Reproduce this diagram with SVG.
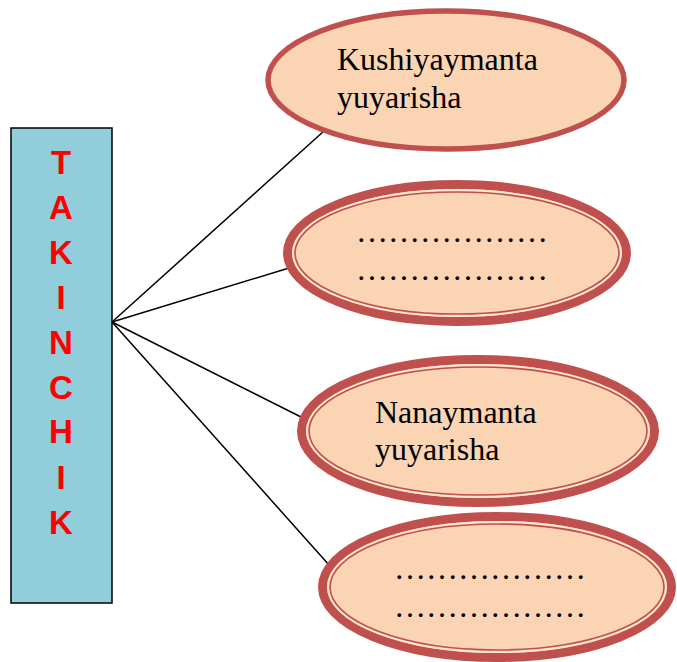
<svg xmlns="http://www.w3.org/2000/svg" width="677" height="662" viewBox="0 0 677 662">
<style>
.bg{fill:#ffffff}
.box{fill:#92CDDC;stroke:#000000;stroke-width:1.5}
.vt{font-family:"Liberation Sans",Arial,sans-serif;font-weight:bold;font-size:33px;fill:#FF0000;text-anchor:middle}
.e1{fill:#FBD4B4;stroke:#C0504D;stroke-width:5.5}
.eo{fill:#FBD4B4;stroke:#C0504D;stroke-width:9}
.eg{fill:none;stroke:#FDE6CF;stroke-width:2}
.ei{fill:none;stroke:#C0504D;stroke-width:1.6}
.lb{font-family:"Liberation Serif","Times New Roman",serif;font-size:32px;fill:#000000}
.dt{font-family:"Liberation Serif","Times New Roman",serif;font-size:32px;fill:#000000}
.cn line{stroke:#000000;stroke-width:1.5}
</style>
<rect class="bg" x="0" y="0" width="677" height="662"/>
<g id="connectors" class="cn">
<line x1="112" y1="322" x2="324" y2="131"/>
<line x1="112" y1="322" x2="289" y2="268"/>
<line x1="112" y1="322" x2="303" y2="418"/>
<line x1="112" y1="322" x2="338" y2="575"/>
</g>
<g id="takinchik">
<rect class="box" x="11" y="128" width="101" height="475"/>
<text class="vt" x="61" y="174">T</text>
<text class="vt" x="61" y="219">A</text>
<text class="vt" x="61" y="264">K</text>
<text class="vt" x="61" y="309">I</text>
<text class="vt" x="61" y="354">N</text>
<text class="vt" x="61" y="399">C</text>
<text class="vt" x="61" y="443">H</text>
<text class="vt" x="61" y="489">I</text>
<text class="vt" x="61" y="534">K</text>
</g>
<g id="node1">
<ellipse class="e1" cx="446" cy="80" rx="178" ry="69"/>
<text class="lb" x="337" y="70">Kushiyaymanta</text>
<text class="lb" x="337" y="108">yuyarisha</text>
</g>
<g id="node2">
<ellipse class="eo" cx="457" cy="253" rx="169.5" ry="68.5"/>
<ellipse class="eg" cx="457" cy="253" rx="164" ry="63"/>
<ellipse class="ei" cx="457" cy="253" rx="162" ry="61"/>
<text class="dt" x="356" y="242">………………</text>
<text class="dt" x="356" y="280">………………</text>
</g>
<g id="node3">
<ellipse class="eo" cx="478" cy="431" rx="176.5" ry="71.5"/>
<ellipse class="eg" cx="478" cy="431" rx="171" ry="66"/>
<ellipse class="ei" cx="478" cy="431" rx="169" ry="64"/>
<text class="lb" x="375" y="423">Nanaymanta</text>
<text class="lb" x="375" y="460">yuyarisha</text>
</g>
<g id="node4">
<ellipse class="eo" cx="497" cy="587" rx="174.5" ry="70.5"/>
<ellipse class="eg" cx="497" cy="587" rx="169" ry="65"/>
<ellipse class="ei" cx="497" cy="587" rx="167" ry="63"/>
<text class="dt" x="394" y="579">………………</text>
<text class="dt" x="394" y="617">………………</text>
</g>
</svg>
